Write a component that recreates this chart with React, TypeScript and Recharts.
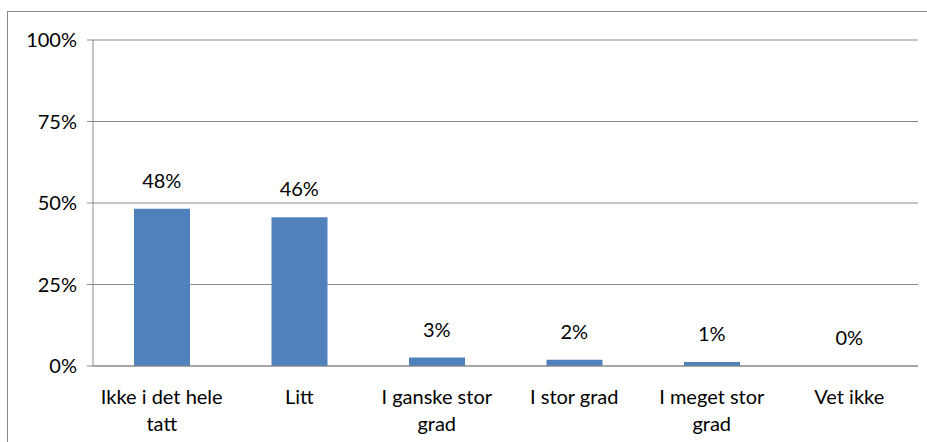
import { ComposedChart, Bar, Line, XAxis, YAxis, CartesianGrid } from "recharts"

const categories = ["Ikke i det hele tatt", "Litt", "I ganske stor grad", "I stor grad", "I meget stor grad", "Vet ikke"]
const shares = [48.2, 45.6, 2.6, 1.9, 1.2, 0]
const yTicks = [0, 25, 50, 75, 100]

const data = categories.map((name, i) => ({ name, value: shares[i], pos: i }))
// boundaries between categories, for the small tick marks under the axis
const boundaries = categories.map((_, i) => i).concat(categories.length)

const FONT = "Lato, sans-serif"
const GRAY = "#898989"

let measureCtx: CanvasRenderingContext2D | null = null
function wrap(text: string, maxWidth: number) {
  if (!measureCtx) {
    measureCtx = document.createElement("canvas").getContext("2d")
  }
  const ctx = measureCtx!
  ctx.font = "20px Lato"
  const words = text.split(" ")
  const lines: string[] = []
  let cur = ""
  for (const w of words) {
    const next = cur ? cur + " " + w : w
    if (cur && ctx.measureText(next).width > maxWidth) {
      lines.push(cur)
      cur = w
    } else {
      cur = next
    }
  }
  if (cur) lines.push(cur)
  return lines
}

const CategoryTick = (props: any) => {
  const { x, y, payload } = props
  const lines = wrap(payload.value, 128)
  return (
    <text x={x} y={y + 38} textAnchor="middle" fontSize={20} fontFamily={FONT} fill="#000">
      {lines.map((l, i) => (
        <tspan key={i} x={x} dy={i === 0 ? 0 : 27}>
          {l}
        </tspan>
      ))}
    </text>
  )
}

const ValueLabel = (props: any) => {
  const { x, y, value } = props
  return (
    <text
      x={x}
      y={y - 29}
      textAnchor="middle"
      dominantBaseline="central"
      fontSize={20}
      fontFamily={FONT}
      fill="#000"
    >
      {Math.round(value)}%
    </text>
  )
}

export default function App() {
  return (
    <div style={{ position: "absolute", left: 0, top: 0, width: 927, height: 442, overflow: "hidden", background: "#fff" }}>
      <div
        style={{
          position: "absolute",
          left: 7,
          top: 11,
          width: 960,
          height: 480,
          border: `1px solid ${GRAY}`,
          boxSizing: "border-box",
        }}
      />
      <ComposedChart
        width={927}
        height={442}
        data={data}
        margin={{ top: 40, right: 9, left: 33, bottom: 16 }}
        style={{ position: "absolute", left: 0, top: 0 }}
      >
        <CartesianGrid vertical={false} stroke={GRAY} strokeWidth={1} />
        <XAxis
          xAxisId="edges"
          type="number"
          dataKey="pos"
          domain={[0, categories.length]}
          ticks={boundaries}
          height={0}
          tickSize={5}
          tickFormatter={() => ""}
          stroke={GRAY}
          axisLine={{ stroke: GRAY }}
          tickLine={{ stroke: GRAY }}
        />
        <XAxis
          dataKey="name"
          height={60}
          tickSize={0}
          tickMargin={0}
          tickLine={false}
          axisLine={{ stroke: GRAY }}
          interval={0}
          tick={<CategoryTick />}
        />
        <YAxis
          width={60}
          domain={[0, 100]}
          ticks={yTicks}
          tickFormatter={(v) => `${v}%`}
          tickSize={6}
          tickMargin={10}
          axisLine={{ stroke: GRAY }}
          tickLine={{ stroke: GRAY }}
          tick={{ fontSize: 20, fontFamily: FONT, fill: "#000" }}
        />
        <Bar dataKey="value" fill="#4F81BD" barSize={56} isAnimationActive={false} />
        <Line
          dataKey="value"
          stroke="none"
          dot={false}
          activeDot={false}
          legendType="none"
          isAnimationActive={false}
          label={<ValueLabel />}
        />
      </ComposedChart>
    </div>
  )
}
